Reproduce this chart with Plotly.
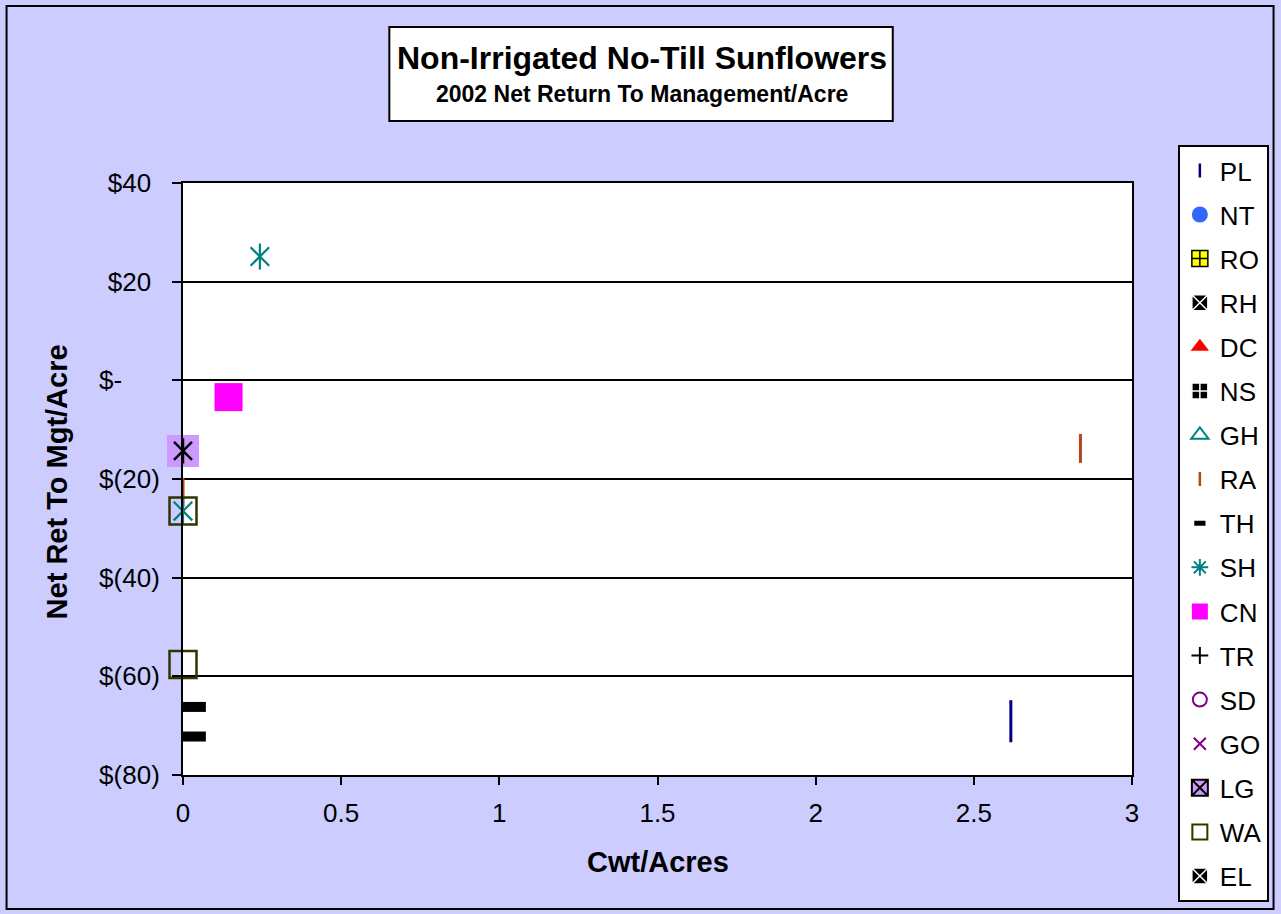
import plotly.graph_objects as go

# ---------------- data ----------------
series_names = ["PL", "NT", "RO", "RH", "DC", "NS", "GH", "RA", "TH",
                "SH", "CN", "TR", "SD", "GO", "LG", "WA", "EL"]

pl_x = [2.617]; pl_y = [-69.1]
ra_x = [2.837, 0.0]; ra_y = [-13.8, -22.7]
th_x = [0.036, 0.036]; th_y = [-66.2, -72.2]
sh_x = [0.243, 0.0]; sh_y = [25.1, -26.5]
cn_x = [0.144]; cn_y = [-3.4]
lg_x = [0.0]; lg_y = [-14.3]
wa_x = [0.0, 0.0]; wa_y = [-26.5, -57.6]

y_tick_vals = [40, 20, 0, -20, -40, -60, -80]
y_tick_text = ["$40", "$20", "$-", "$(20)", "$(40)", "$(60)", "$(80)"]
x_tick_vals = [0, 0.5, 1, 1.5, 2, 2.5, 3]
x_tick_text = ["0", "0.5", "1", "1.5", "2", "2.5", "3"]

title_text = "Non-Irrigated No-Till Sunflowers"
subtitle_text = "2002 Net Return To Management/Acre"
x_title = "Cwt/Acres"
y_title = "Net Ret To Mgt/Acre"

# ---------------- style ----------------
FONT = "Arial, 'Liberation Sans', sans-serif"
BG = "#CCCCFF"
W, H = 1281, 914
L, R, T, B = 183, 1135, 183, 775


def px_x(p):
    return (p - L) / (R - L)


def px_y(p):
    return (B - p) / (B - T)


def pad_label(t):
    inv = "<span style='color:rgba(0,0,0,0)'>%s</span>"
    if t.endswith(")"):
        return t
    if t == "$-":
        return t + inv % "00)"
    return t + inv % ")"


fig = go.Figure()

# legend entries (symbol definitions)
legend_style = {
    "PL": dict(symbol="line-ns-open", color="#000080", size=10, lc="#000080", lw=2.5),
    "NT": dict(symbol="circle", color="#3366FF", size=16, lc="#3366FF", lw=0),
    "RO": dict(symbol="square-cross", color="#FFFF00", size=16, lc="#000000", lw=1.5),
    "RH": dict(symbol="square-x", color="#000000", size=16, lc="#FFFFFF", lw=1.5),
    "DC": dict(symbol="triangle-up", color="#FF0000", size=16, lc="#FF0000", lw=0),
    "NS": dict(symbol="square-cross", color="#000000", size=16, lc="#FFFFFF", lw=1.5),
    "GH": dict(symbol="triangle-up-open", color="#008080", size=15, lc="#008080", lw=2),
    "RA": dict(symbol="line-ns-open", color="#B5441A", size=10, lc="#B5441A", lw=2.5),
    "TH": dict(symbol="line-ew-open", color="#000000", size=8, lc="#000000", lw=6),
    "SH": dict(symbol="asterisk-open", color="#008080", size=14, lc="#008080", lw=2),
    "CN": dict(symbol="square", color="#FF00FF", size=16, lc="#FF00FF", lw=0),
    "TR": dict(symbol="cross-thin-open", color="#000000", size=12, lc="#000000", lw=2),
    "SD": dict(symbol="circle-open", color="#800080", size=14, lc="#800080", lw=2),
    "GO": dict(symbol="x-thin-open", color="#800080", size=12, lc="#800080", lw=2),
    "LG": dict(symbol="square-x", color="#CC99FF", size=16, lc="#000000", lw=2),
    "WA": dict(symbol="square-open", color="#333300", size=15, lc="#333300", lw=2),
    "EL": dict(symbol="square-x", color="#000000", size=16, lc="#FFFFFF", lw=1.5),
}

for nm in series_names:
    s = legend_style[nm]
    fig.add_trace(go.Scatter(
        x=[None], y=[None], mode="markers", name=nm, legendgroup=nm,
        showlegend=True, hoverinfo="skip",
        marker=dict(symbol=s["symbol"], color=s["color"], size=s["size"],
                    line=dict(color=s["lc"], width=s["lw"])),
    ))


def add_pts(x, y, symbol, color, size, lc, lw):
    fig.add_trace(go.Scatter(
        x=x, y=y, mode="markers", showlegend=False, cliponaxis=False,
        marker=dict(symbol=symbol, color=color, size=size,
                    line=dict(color=lc, width=lw)),
    ))


# data marks, in series order
add_pts(pl_x, pl_y, "line-ns-open", "#000080", 30, "#000080", 3)
add_pts(ra_x, ra_y, "line-ns-open", "#B5441A", 20.7, "#B5441A", 3)
add_pts(th_x, th_y, "line-ew-open", "#000000", 16.4, "#000000", 10)
add_pts(sh_x, sh_y, "x-thin-open", "#008080", 18.6, "#008080", 2.2)
add_pts(sh_x, sh_y, "line-ns-open", "#008080", 18.6, "#008080", 2.2)
add_pts(cn_x, cn_y, "square", "#FF00FF", 28, "#FF00FF", 0)
add_pts(lg_x, lg_y, "square", "#CC99FF", 32, "#CC99FF", 0)
add_pts(lg_x, lg_y, "x-thin-open", "#000000", 18, "#000000", 2.5)
add_pts(lg_x, lg_y, "line-ns-open", "#000000", 18, "#000000", 2.5)
add_pts(wa_x, wa_y, "square-open", "#333300", 27, "#333300", 2.5)

fig.update_layout(
    width=W, height=H,
    margin=dict(l=L, r=W - R, t=T, b=H - B, pad=0),
    paper_bgcolor=BG, plot_bgcolor="#FFFFFF",
    font=dict(family=FONT, size=26, color="#000000"),
    showlegend=True,
    legend=dict(
        x=px_x(1181), y=px_y(145), xanchor="left", yanchor="top",
        bgcolor="#FFFFFF", bordercolor="#000000", borderwidth=2,
        font=dict(family=FONT, size=26, color="#000000"),
        traceorder="grouped", tracegroupgap=7.3,
        itemwidth=30, maxheight=850,
    ),
    xaxis=dict(
        range=[0, 3], tickvals=x_tick_vals, ticktext=x_tick_text,
        showgrid=False, zeroline=False,
        showline=True, linecolor="#000000", linewidth=2, mirror=True,
        ticks="outside", ticklen=8, tickwidth=2, tickcolor="#000000",
        tickfont=dict(family=FONT, size=26, color="#000000"),
        ticklabelstandoff=6,
    ),
    yaxis=dict(
        range=[-80, 40], tickvals=y_tick_vals,
        ticktext=[pad_label(t) for t in y_tick_text],
        showgrid=True, gridcolor="#000000", gridwidth=2,
        zeroline=False,
        showline=True, linecolor="#000000", linewidth=2, mirror=True,
        ticks="outside", ticklen=9, tickwidth=2, tickcolor="#000000",
        tickfont=dict(family=FONT, size=26, color="#000000"),
        ticklabelstandoff=7,
    ),
    shapes=[
        dict(type="rect", xref="paper", yref="paper",
             x0=px_x(6), x1=px_x(1277), y0=px_y(909), y1=px_y(6),
             line=dict(color="#000000", width=2), fillcolor="rgba(0,0,0,0)",
             layer="below"),
        dict(type="rect", xref="paper", yref="paper",
             x0=px_x(390), x1=px_x(895), y0=px_y(121), y1=px_y(27),
             line=dict(color="#000000", width=2), fillcolor="#FFFFFF",
             layer="above"),
    ],
    annotations=[
        dict(text="<b>%s</b>" % title_text, xref="paper", yref="paper",
             x=px_x(643), y=px_y(58), xanchor="center", yanchor="middle",
             showarrow=False, font=dict(family=FONT, size=32, color="#000000")),
        dict(text="<b>%s</b>" % subtitle_text, xref="paper", yref="paper",
             x=px_x(643), y=px_y(94), xanchor="center", yanchor="middle",
             showarrow=False, font=dict(family=FONT, size=23, color="#000000")),
        dict(text="<b>%s</b>" % x_title, xref="paper", yref="paper",
             x=px_x(659), y=px_y(862), xanchor="center", yanchor="middle",
             showarrow=False, font=dict(family=FONT, size=29, color="#000000")),
        dict(text="<b>%s</b>" % y_title, xref="paper", yref="paper",
             x=px_x(57), y=px_y(482), xanchor="center", yanchor="middle",
             textangle=-90,
             showarrow=False, font=dict(family=FONT, size=29, color="#000000")),
    ],
)

fig.write_html("out.html",
               config={"displayModeBar": False},
               post_script="document.body.style.margin='0px';"
                           "document.body.style.overflow='hidden';")
